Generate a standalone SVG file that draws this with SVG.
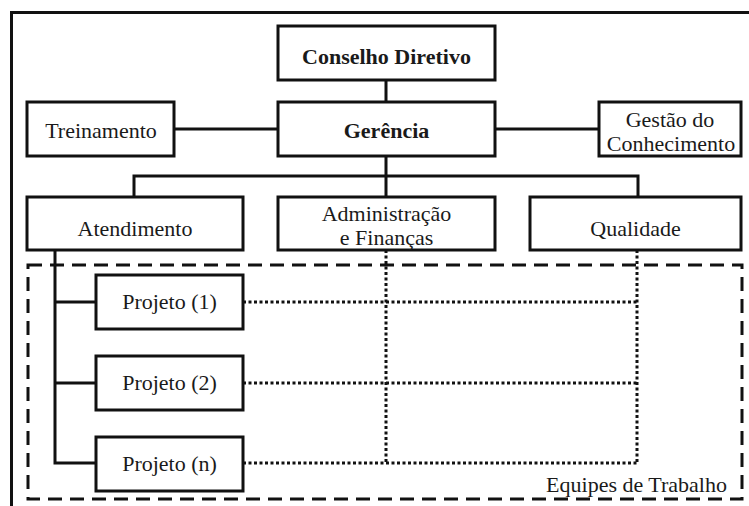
<svg xmlns="http://www.w3.org/2000/svg" width="749" height="506" viewBox="0 0 749 506">
<style>
.box{fill:#fff;stroke:#111;stroke-width:3}
.ln{fill:none;stroke:#111;stroke-width:3}
.dot{fill:none;stroke:#111;stroke-width:3;stroke-dasharray:3 2.5}
.dash{fill:none;stroke:#111;stroke-width:3;stroke-dasharray:14 8}
text{font-family:'Liberation Serif',serif;font-size:22px;fill:#1a1a1a;text-anchor:middle}
.b{font-weight:bold}
</style>
<rect width="749" height="506" fill="#fff"/>
<path class="ln" d="M11.5 506V12.5H749"/>
<g id="connectors">
<path class="ln" d="M386 80V102M386 156V197M174 129H278M495 129H599M134 197V176H638V197"/>
<path class="ln" d="M55 250V463H96M55 302H96M55 383H96"/>
<path class="dot" d="M243 302H637M243 383H637M243 463H637M386 250V463M637 250V463"/>
</g>
<g font-family="Liberation Serif, serif">
<g id="equipes">
<rect class="dash" x="28" y="265" width="714" height="234"/>
<text x="727" y="492" style="text-anchor:end">Equipes de Trabalho</text>
</g>
<g id="conselho"><rect class="box" x="278" y="26" width="217" height="54"/><text class="b" x="386.5" y="64">Conselho Diretivo</text></g>
<g id="gerencia"><rect class="box" x="278" y="102" width="217" height="54"/><text class="b" x="386.5" y="138">Gerência</text></g>
<g id="treinamento"><rect class="box" x="27" y="102" width="147" height="54"/><text x="101" y="138">Treinamento</text></g>
<g id="gestao"><rect class="box" x="599" y="102" width="142" height="54"/><text x="670" y="127">Gestão do</text><text x="671" y="151">Conhecimento</text></g>
<g id="atendimento"><rect class="box" x="27" y="197" width="216" height="53"/><text x="135" y="236">Atendimento</text></g>
<g id="administracao"><rect class="box" x="278" y="197" width="217" height="53"/><text x="386.5" y="221">Administração</text><text x="386.5" y="245">e Finanças</text></g>
<g id="qualidade"><rect class="box" x="530" y="197" width="211" height="53"/><text x="635.5" y="236">Qualidade</text></g>
<g id="projeto1"><rect class="box" x="96" y="275" width="147" height="54"/><text x="169.5" y="309">Projeto (1)</text></g>
<g id="projeto2"><rect class="box" x="96" y="356" width="147" height="54"/><text x="169.5" y="390">Projeto (2)</text></g>
<g id="projeton"><rect class="box" x="96" y="437" width="147" height="54"/><text x="169.5" y="471">Projeto (n)</text></g>
</g>
</svg>
